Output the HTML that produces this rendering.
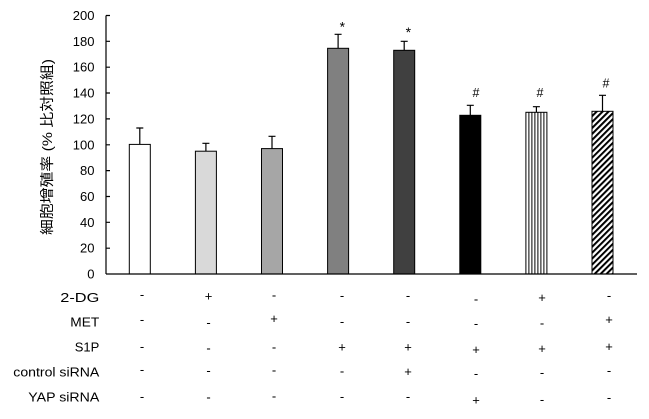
<!DOCTYPE html>
<html>
<head>
<meta charset="utf-8">
<style>
  html, body { margin: 0; padding: 0; background: #fff; }
  svg { display: block; }
  text { font-family: "Liberation Sans", "Noto Sans CJK JP", sans-serif; fill: #000; }
</style>
</head>
<body>
<svg width="649" height="419" viewBox="0 0 649 419" xmlns="http://www.w3.org/2000/svg">
  <defs>
    <pattern id="hatch" patternUnits="userSpaceOnUse" width="4.2" height="10" patternTransform="rotate(45)">
      <rect x="0" y="0" width="4.2" height="10" fill="#fff"/>
      <rect x="0" y="0" width="2" height="10" fill="#000"/>
    </pattern>
  </defs>

  <!-- Y axis title -->
  <text transform="translate(52,147) rotate(-90)" text-anchor="middle" font-size="14" textLength="176" lengthAdjust="spacingAndGlyphs">細胞增殖率 (% 比対照組)</text>

  <!-- Y tick labels -->
  <g font-size="13" text-anchor="end">
    <text x="94.5" y="20">200</text>
    <text x="94.5" y="45.9">180</text>
    <text x="94.5" y="71.7">160</text>
    <text x="94.5" y="97.6">140</text>
    <text x="94.5" y="123.4">120</text>
    <text x="94.5" y="149.3">100</text>
    <text x="94.5" y="175.1">80</text>
    <text x="94.5" y="201">60</text>
    <text x="94.5" y="226.8">40</text>
    <text x="94.5" y="252.7">20</text>
    <text x="94.5" y="278.5">0</text>
  </g>

  <!-- Bars -->
  <g stroke="#000" stroke-width="1">
    <rect x="129.3" y="144.4" width="21" height="129.6" fill="#ffffff"/>
    <rect x="195.4" y="151.2" width="21" height="122.8" fill="#d9d9d9"/>
    <rect x="261.5" y="148.6" width="21" height="125.4" fill="#a6a6a6"/>
    <rect x="327.6" y="48.3" width="21" height="225.7" fill="#808080"/>
    <rect x="393.7" y="50.3" width="21" height="223.7" fill="#404040"/>
    <rect x="459.8" y="115.3" width="21" height="158.7" fill="#000000"/>
    <rect x="525.9" y="112.3" width="21" height="161.7" fill="#ffffff"/>
    <rect x="592" y="111.3" width="21" height="162.7" fill="url(#hatch)"/>
  </g>
  <!-- vertical stripes bar 7 -->
  <g stroke="#000" stroke-width="1">
    <line x1="528.9" y1="112.3" x2="528.9" y2="274"/>
    <line x1="531.9" y1="112.3" x2="531.9" y2="274"/>
    <line x1="534.9" y1="112.3" x2="534.9" y2="274"/>
    <line x1="537.9" y1="112.3" x2="537.9" y2="274"/>
    <line x1="540.9" y1="112.3" x2="540.9" y2="274"/>
    <line x1="543.9" y1="112.3" x2="543.9" y2="274"/>
  </g>

  <!-- Error bars -->
  <g stroke="#000" stroke-width="1.2" fill="none">
    <path d="M139.8 144.4 V128 M136.3 128 H143.3"/>
    <path d="M205.9 151.2 V143.3 M202.4 143.3 H209.4"/>
    <path d="M272 148.6 V136.3 M268.5 136.3 H275.5"/>
    <path d="M338.1 48.3 V34.3 M334.6 34.3 H341.6"/>
    <path d="M404.2 50.3 V41.3 M400.7 41.3 H407.7"/>
    <path d="M470.3 115.3 V105.3 M466.8 105.3 H473.8"/>
    <path d="M536.4 112.3 V106.7 M532.9 106.7 H539.9"/>
    <path d="M602.5 111.3 V95.3 M599 95.3 H606"/>
  </g>

  <!-- Axes -->
  <g stroke="#000" stroke-width="1.2" fill="none">
    <line x1="106" y1="15.5" x2="106" y2="274"/>
    <line x1="106" y1="274" x2="637" y2="274"/>
    <path d="M106 15.5 H110 M106 41.3 H110 M106 67.2 H110 M106 93 H110 M106 118.9 H110 M106 144.8 H110 M106 170.6 H110 M106 196.5 H110 M106 222.3 H110 M106 248.2 H110"/>
  </g>

  <!-- Significance marks -->
  <g font-size="14" text-anchor="middle">
    <text x="342.3" y="31.5">*</text>
    <text x="408.3" y="37">*</text>
  </g>
  <g font-size="12.5" text-anchor="middle">
    <text x="476" y="97.2">#</text>
    <text x="540" y="97.2">#</text>
    <text x="606" y="87.5">#</text>
  </g>

  <!-- Row labels -->
  <g font-size="13" text-anchor="end">
    <text x="99.3" y="302.2" textLength="39" lengthAdjust="spacingAndGlyphs">2-DG</text>
    <text x="99.3" y="326.5" textLength="29" lengthAdjust="spacingAndGlyphs">MET</text>
    <text x="99.3" y="351.5">S1P</text>
    <text x="99.3" y="376.5" textLength="86" lengthAdjust="spacingAndGlyphs">control siRNA</text>
    <text x="99.3" y="401.5" textLength="71" lengthAdjust="spacingAndGlyphs">YAP siRNA</text>
  </g>

  <!-- Row symbols -->
  <g font-size="13" text-anchor="middle">
    <!-- 2-DG -->
    <text x="142" y="299.2">-</text>
    <text x="208.5" y="300.5">+</text>
    <text x="274" y="299.5">-</text>
    <text x="342" y="300">-</text>
    <text x="408" y="300">-</text>
    <text x="476" y="303.5">-</text>
    <text x="542" y="301.8">+</text>
    <text x="609" y="300.2">-</text>
    <!-- MET -->
    <text x="142" y="324.2">-</text>
    <text x="208.5" y="326.8">-</text>
    <text x="274" y="323">+</text>
    <text x="342" y="326">-</text>
    <text x="408" y="326">-</text>
    <text x="476" y="328.2">-</text>
    <text x="542" y="327.5">-</text>
    <text x="609" y="323.8">+</text>
    <!-- S1P -->
    <text x="142" y="350.9">-</text>
    <text x="208.5" y="352.5">-</text>
    <text x="274" y="351.5">-</text>
    <text x="342" y="351.5">+</text>
    <text x="408" y="351.5">+</text>
    <text x="476" y="353.8">+</text>
    <text x="542" y="352.8">+</text>
    <text x="609" y="351.2">+</text>
    <!-- control siRNA -->
    <text x="142" y="374.2">-</text>
    <text x="208.5" y="374.9">-</text>
    <text x="274" y="374.5">-</text>
    <text x="342" y="375.5">-</text>
    <text x="408" y="376">+</text>
    <text x="476" y="378.2">-</text>
    <text x="542" y="377.2">-</text>
    <text x="609" y="374.9">-</text>
    <!-- YAP siRNA -->
    <text x="142" y="400.9">-</text>
    <text x="208.5" y="401.5">-</text>
    <text x="274" y="400.5">-</text>
    <text x="342" y="401">-</text>
    <text x="408" y="401">-</text>
    <text x="476" y="404.5">+</text>
    <text x="542" y="404.2">-</text>
    <text x="609" y="401.9">-</text>
  </g>
</svg>
</body>
</html>
